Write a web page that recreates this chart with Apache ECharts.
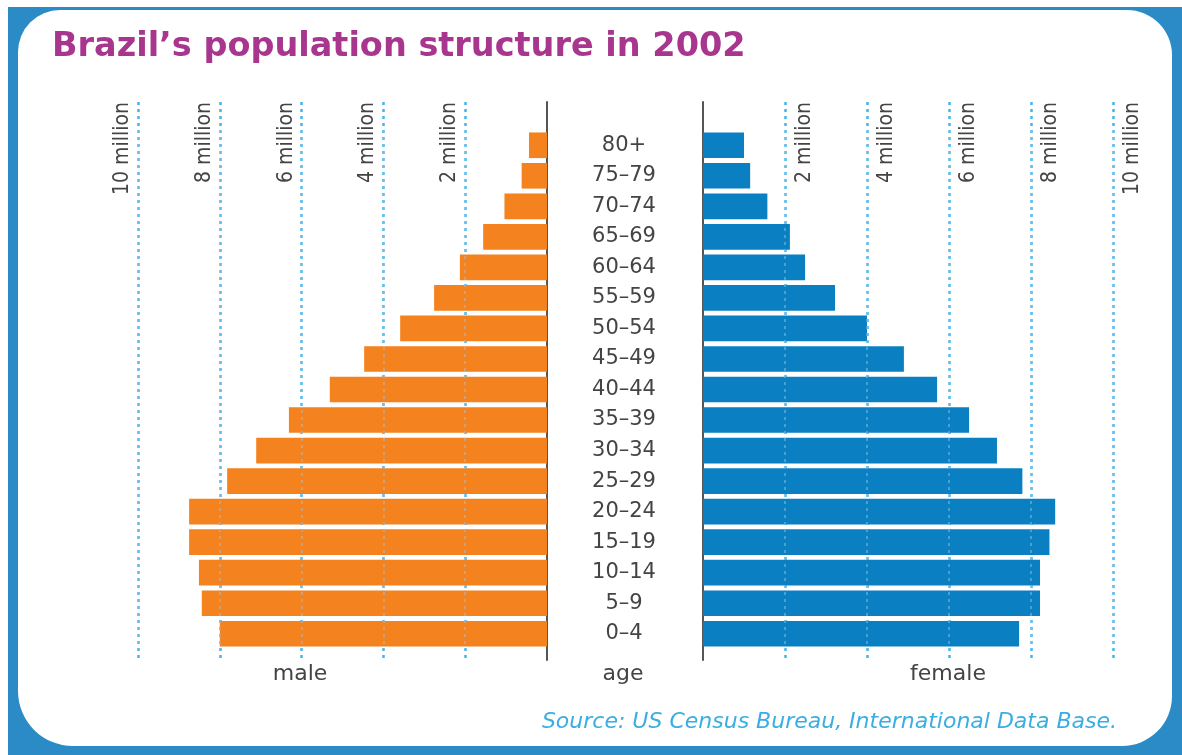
<!DOCTYPE html>
<html>
<head>
<meta charset="utf-8">
<title>Brazil's population structure in 2002</title>
<script src="https://cdn.jsdelivr.net/npm/echarts@6/dist/echarts.min.js"></script>
<style>
  html, body { margin: 0; padding: 0; background: #ffffff; }
  #chart { width: 1182px; height: 755px; }
</style>
</head>
<body>
<div id="chart"></div>
<script>
// Age groups, listed from the oldest (top row) to the youngest (bottom row)
const ageGroups = ['80+', '75–79', '70–74', '65–69', '60–64', '55–59', '50–54', '45–49',
  '40–44', '35–39', '30–34', '25–29', '20–24', '15–19', '10–14', '5–9', '0–4'];

// Population in millions per age group
const maleMillions = [0.44, 0.62, 1.04, 1.56, 2.13, 2.76, 3.59, 4.47,
  5.31, 6.31, 7.11, 7.82, 8.75, 8.75, 8.51, 8.44, 8.0];
const femaleMillions = [1.0, 1.15, 1.57, 2.12, 2.49, 3.22, 4.0, 4.9,
  5.71, 6.49, 7.17, 7.79, 8.59, 8.45, 8.22, 8.22, 7.71];

// Scale: 0 to 10 million, a gridline every 2 million
const scaleMax = 10;
const scaleStep = 2;
const tickUnit = 'million';

const titleText = 'Brazil’s population structure in 2002';
const sourceText = 'Source: US Census Bureau, International Data Base.';
const sideNames = { male: 'male', age: 'age', female: 'female' };

const textGray = '#444444';
const frameBlue = '#2a8bc7';
const maleColor = '#f4821f';
const femaleColor = '#0a80c3';
const gridBlue = '#45b5ea';
const labelFont = "'Liberation Sans Narrow', 'DejaVu Sans Condensed', 'Arial Narrow', sans-serif";
const dashStyle = [3, 4];

const chart = echarts.init(document.getElementById('chart'), null, { renderer: 'canvas' });

// Value axis carrying the dashed million gridlines and their rotated labels
function gridAxis(gridIndex, inverse, side) {
  return {
    type: 'value', gridIndex: gridIndex, position: 'top', inverse: inverse,
    min: 0, max: scaleMax, interval: scaleStep,
    axisLine: { show: false }, axisTick: { show: false },
    splitLine: { show: true, showMinLine: false,
      lineStyle: { color: gridBlue, width: 2.5, type: dashStyle } },
    axisLabel: {
      inside: true, rotate: 90, margin: 0,
      align: 'right', verticalAlign: side === 'left' ? 'bottom' : 'top',
      padding: side === 'left' ? [0, 0, 5, 0] : [9, 0, 0, 0],
      color: textGray, fontFamily: labelFont, fontSize: 21,
      formatter: v => (v === 0 ? '' : v + ' ' + tickUnit)
    }
  };
}

// Bar-panel value axis: hidden, except faint gridline dashes showing over the bars
function barAxis(gridIndex, inverse) {
  return {
    type: 'value', gridIndex: gridIndex, inverse: inverse,
    min: 0, max: scaleMax, interval: scaleStep, z: 3,
    axisLine: { show: false }, axisTick: { show: false }, axisLabel: { show: false },
    splitLine: { show: true, showMinLine: false,
      lineStyle: { color: 'rgba(150,200,235,0.45)', width: 2, type: dashStyle } }
  };
}

// Plain vertical zero line next to the age labels
function zeroAxis(gridIndex, position) {
  return {
    type: 'value', gridIndex: gridIndex, position: position, min: 0, max: 1,
    axisLine: { show: true, lineStyle: { color: '#555555', width: 2 } },
    axisTick: { show: false }, axisLabel: { show: false }, splitLine: { show: false }
  };
}

const nameFont = "22px 'DejaVu Sans', sans-serif";

const option = {
  backgroundColor: '#ffffff',
  animation: false,
  graphic: [
    { type: 'rect', z: -10, silent: true,
      shape: { x: 8, y: 7, width: 1174, height: 748 },
      style: { fill: frameBlue } },
    { type: 'rect', z: -9, silent: true,
      shape: { x: 18, y: 10, width: 1154, height: 736, r: [42, 45, 50, 55] },
      style: { fill: '#ffffff' } },
    { type: 'text', x: 300, y: 674, silent: true,
      style: { text: sideNames.male, fill: textGray, font: nameFont,
        align: 'center', verticalAlign: 'middle' } },
    { type: 'text', x: 623, y: 674, silent: true,
      style: { text: sideNames.age, fill: textGray, font: nameFont,
        align: 'center', verticalAlign: 'middle' } },
    { type: 'text', x: 948, y: 674, silent: true,
      style: { text: sideNames.female, fill: textGray, font: nameFont,
        align: 'center', verticalAlign: 'middle' } }
  ],
  title: [
    { text: titleText, left: 47, top: 25,
      textStyle: { color: '#a8358e', fontSize: 33.5, fontWeight: 'bold',
        fontFamily: "'DejaVu Sans', sans-serif" } },
    { text: sourceText, right: 60, top: 706,
      textStyle: { color: '#3aaee2', fontSize: 22, fontStyle: 'italic', fontWeight: 'normal',
        fontFamily: "'DejaVu Sans', sans-serif" } }
  ],
  grid: [
    // bars: male (left) and female (right)
    { left: 138, right: 635, top: 130, height: 519 },
    { left: 703, width: 410, top: 130, height: 519 },
    // gridline panels behind the bars
    { left: 138, right: 635, top: 102, bottom: 95 },
    { left: 703, width: 410, top: 102, bottom: 95 }
  ],
  xAxis: [
    barAxis(0, true),
    barAxis(1, false),
    gridAxis(2, true, 'left'),
    gridAxis(3, false, 'right')
  ],
  yAxis: [
    { type: 'category', gridIndex: 0, data: ageGroups, inverse: true, position: 'right',
      axisLine: { show: false }, axisTick: { show: false },
      axisLabel: { show: true, margin: 77, align: 'center', color: textGray,
        fontSize: 21, fontFamily: "'DejaVu Sans', sans-serif" } },
    { type: 'category', gridIndex: 1, data: ageGroups, inverse: true, position: 'left',
      axisLine: { show: false }, axisTick: { show: false }, axisLabel: { show: false } },
    zeroAxis(2, 'right'),
    zeroAxis(3, 'left')
  ],
  series: [
    { name: 'male', type: 'bar', xAxisIndex: 0, yAxisIndex: 0, data: maleMillions,
      barCategoryGap: '16%', itemStyle: { color: maleColor }, z: 2 },
    { name: 'female', type: 'bar', xAxisIndex: 1, yAxisIndex: 1, data: femaleMillions,
      barCategoryGap: '16%', itemStyle: { color: femaleColor }, z: 2 }
  ]
};

chart.setOption(option);
</script>
</body>
</html>
